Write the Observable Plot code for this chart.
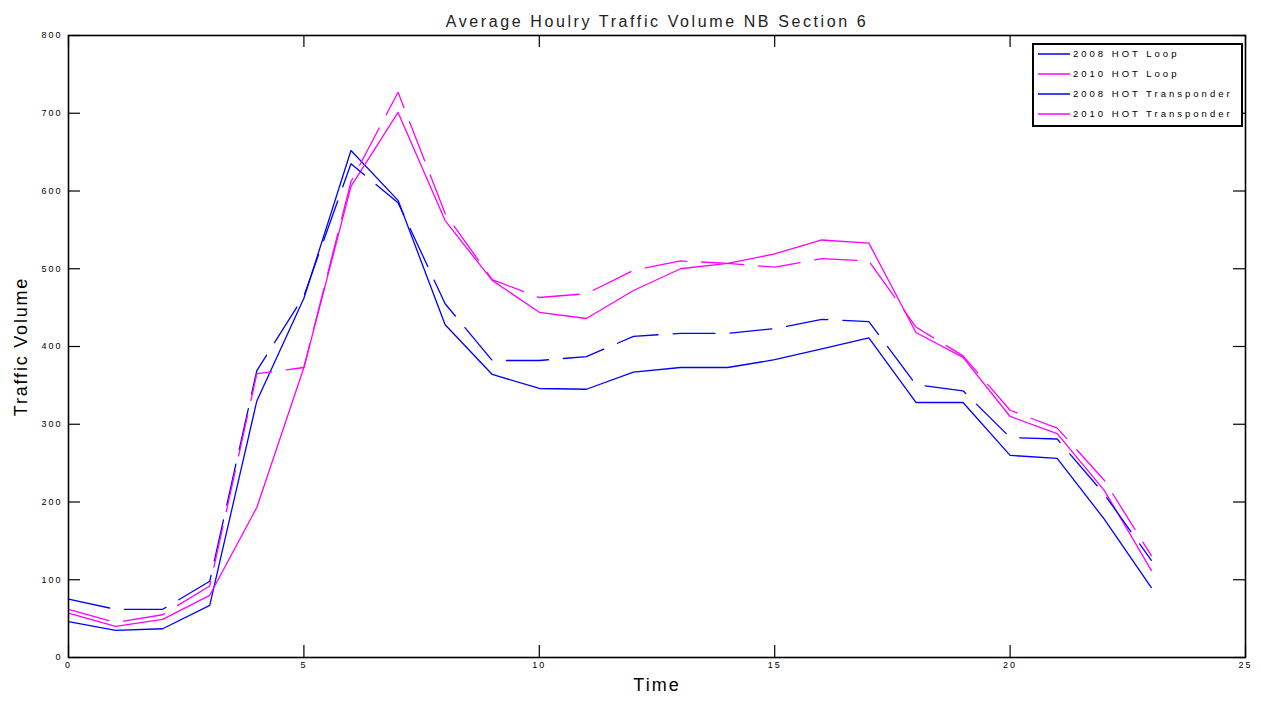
<!DOCTYPE html>
<html>
<head>
<meta charset="utf-8">
<script src="https://cdn.jsdelivr.net/npm/d3@7"></script>
<script src="https://cdn.jsdelivr.net/npm/@observablehq/plot@0.6"></script>
<style>
  body { margin: 0; background: #fff; }
  #wrap { position: relative; width: 1261px; height: 702px; font-family: "Liberation Sans", Arial, sans-serif; }
  #wrap svg text { font-family: "Liberation Sans", Arial, sans-serif; }
  g[aria-label="x-axis tick label"] text, g[aria-label="y-axis tick label"] text { letter-spacing: 2px; }
  #legend { position: absolute; left: 1032px; top: 43px; }
  #legend text { letter-spacing: 3px; }
</style>
</head>
<body>
<div id="wrap"></div>
<script>
// ---- data ----
const hours = [0,1,2,3,4,5,6,7,8,9,10,11,12,13,14,15,16,17,18,19,20,21,22,23];
const loop2008 = [46,35,37,67,330,462,652,588,428,364,346,345,367,373,373,383,397,411,328,328,260,256,178,90];
const loop2010 = [57,40,49,80,193,373,606,701,562,485,444,436,472,500,507,519,537,533,418,386,310,288,215,112];
const trans2008 = [75,62,62,98,369,465,635,585,455,382,382,387,413,417,417,423,435,432,351,343,283,281,210,125];
const trans2010 = [62,45,55,92,365,373,612,727,571,486,463,468,498,510,507,502,513,510,425,388,318,295,228,131];
const seriesNames = ["2008 HOT Loop", "2010 HOT Loop", "2008 HOT Transponder", "2010 HOT Transponder"];
const seriesValues = [loop2008, loop2010, trans2008, trans2010];
const seriesColors = ["#0000ff", "#ff00ff", "#0000ff", "#ff00ff"];
const seriesDash = [null, null, "42,15", "42,15"];
const xTicks = [0, 5, 10, 15, 20, 25];
const yTicks = [0, 100, 200, 300, 400, 500, 600, 700, 800];
const titleText = "Average Houlry Traffic Volume NB Section 6";
const xLabel = "Time";
const yLabel = "Traffic Volume";

// ---- layout ----
const W = 1261, H = 702;
const mL = 68, mR = 16, mT = 35, mB = 45;
const fw = W - mL - mR, fh = H - mT - mB;
const tickLen = 12;

const rows = seriesNames.map((name, i) => hours.map((h, j) => ({hour: h, value: seriesValues[i][j], series: name})));

const lineMarks = rows.map((r, i) => Plot.line(r, {
  x: "hour", y: "value",
  stroke: seriesColors[i], strokeWidth: 1.3,
  strokeDasharray: seriesDash[i] || undefined
}));

const chart = Plot.plot({
  width: W, height: H,
  marginLeft: mL, marginRight: mR, marginTop: mT, marginBottom: mB,
  x: {domain: [0, 25]},
  y: {domain: [0, 800]},
  style: {background: "#fff", color: "#000"},
  marks: [
    ...lineMarks,
    // inward ticks on all four sides
    Plot.tickX(xTicks, {x: d => d, insetTop: fh - tickLen, stroke: "#000", strokeWidth: 1.2}),
    Plot.tickX(xTicks, {x: d => d, insetBottom: fh - tickLen, stroke: "#000", strokeWidth: 1.2}),
    Plot.tickY(yTicks, {y: d => d, insetRight: fw - tickLen, stroke: "#000", strokeWidth: 1.2}),
    Plot.tickY(yTicks, {y: d => d, insetLeft: fw - tickLen, stroke: "#000", strokeWidth: 1.2}),
    Plot.axisX(xTicks, {tickSize: 0, tickPadding: 4, fontSize: 9, label: null}),
    Plot.axisY(yTicks, {tickSize: 0, tickPadding: 6, fontSize: 9, label: null}),
    Plot.frame({stroke: "#000", strokeWidth: 1.6}),
    Plot.text([titleText], {frameAnchor: "top", dy: -20, fontSize: 16, fill: "#222", textAnchor: "middle"}),
    Plot.text([xLabel], {frameAnchor: "bottom", dy: 33, fontSize: 18, textAnchor: "middle"}),
    Plot.text([yLabel], {frameAnchor: "left", dx: -47, rotate: -90, fontSize: 18, textAnchor: "middle"})
  ]
});
document.getElementById("wrap").appendChild(chart);

// letter spacing to match the stretched lettering of the original
const spacing = new Map([[titleText, "2.6px"], [xLabel, "2px"], [yLabel, "1.8px"]]);
d3.select(chart).selectAll("text").each(function() {
  const s = spacing.get(this.textContent);
  if (s) d3.select(this).style("letter-spacing", s);
});

// ---- legend ----
const lw = 211, lh = 84;
const leg = d3.select("#wrap").append("svg")
  .attr("id", "legend").attr("width", lw).attr("height", lh);
leg.append("rect").attr("x", 1).attr("y", 1).attr("width", lw - 2).attr("height", lh - 2)
  .attr("fill", "#fff").attr("stroke", "#000").attr("stroke-width", 2);
seriesNames.forEach((name, i) => {
  const cy = 11 + i * 20;
  leg.append("line").attr("x1", 6).attr("x2", 38).attr("y1", cy).attr("y2", cy)
    .attr("stroke", seriesColors[i]).attr("stroke-width", 1.5);
  leg.append("text").attr("x", 41).attr("y", cy).attr("dy", "0.35em")
    .attr("font-size", 9.5).attr("fill", "#000").text(name);
});
</script>
</body>
</html>
